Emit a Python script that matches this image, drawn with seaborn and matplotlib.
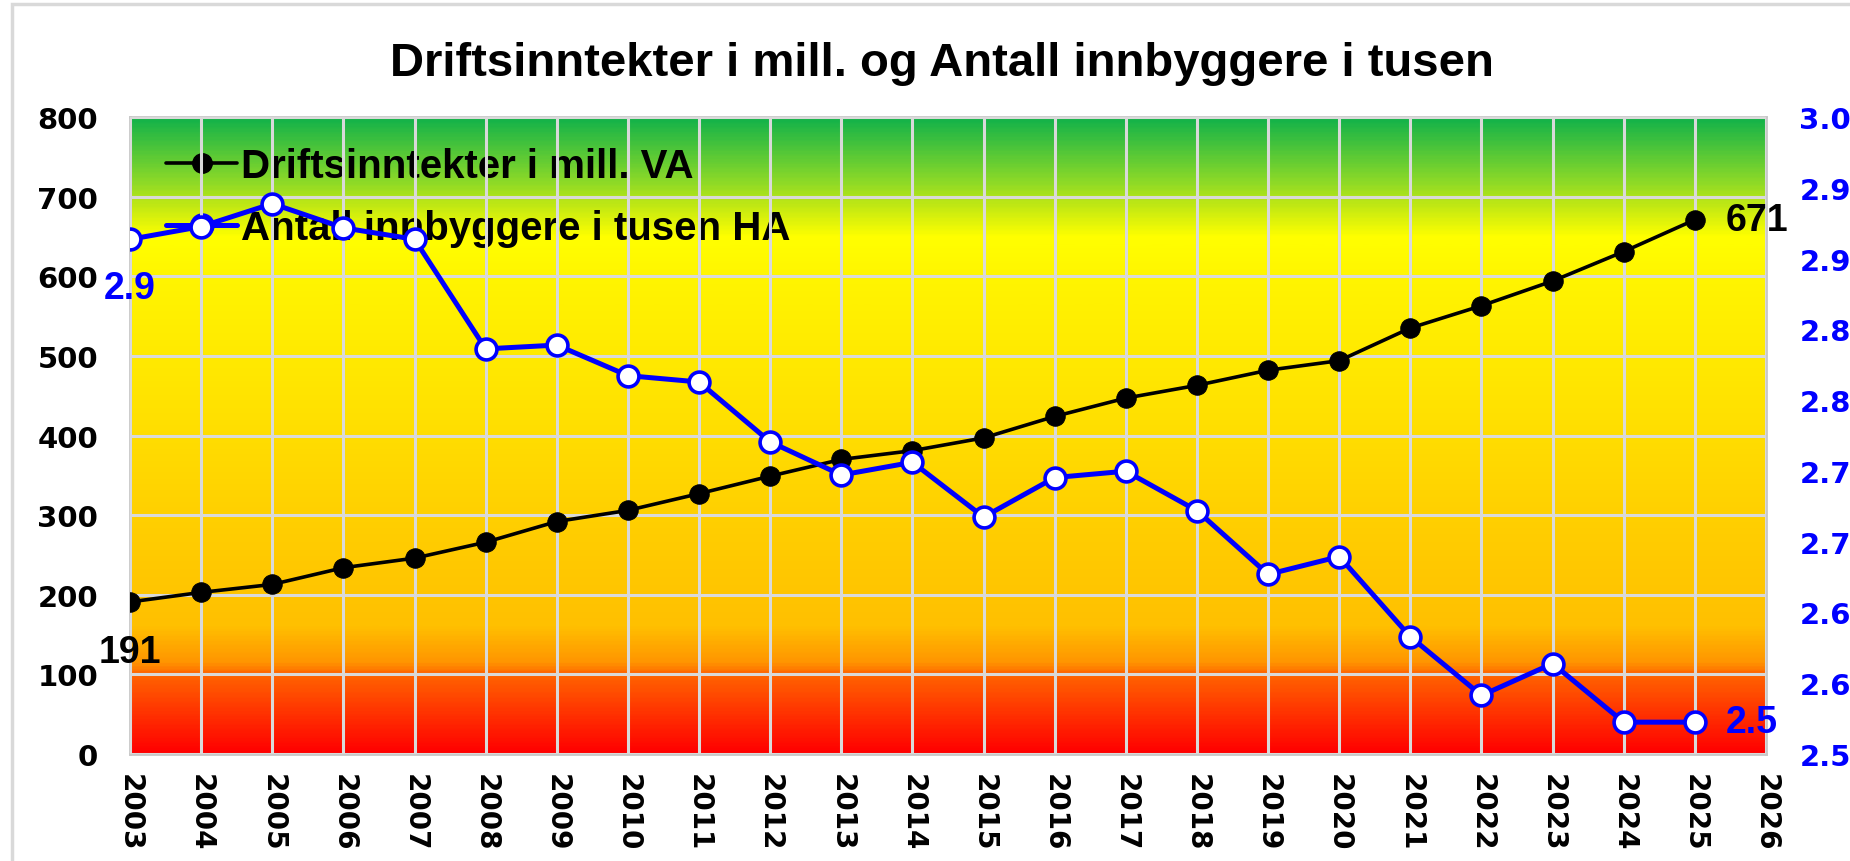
import numpy as np
import pandas as pd
import matplotlib
matplotlib.use("Agg")
import matplotlib.pyplot as plt
import seaborn as sns
from matplotlib.colors import LinearSegmentedColormap
from matplotlib.lines import Line2D
from matplotlib.patches import Rectangle

# data
years = list(range(2003, 2026))
driftsinntekter = [191, 203, 213, 234, 246, 266, 292, 306, 327, 349, 370, 381,
                   397, 424, 447, 463, 482, 494, 535, 563, 594, 631, 671]
innbyggere = [2.904, 2.914, 2.932, 2.913, 2.904, 2.818, 2.821, 2.797, 2.792,
              2.745, 2.719, 2.729, 2.686, 2.717, 2.722, 2.691, 2.641, 2.655,
              2.592, 2.546, 2.571, 2.525, 2.525]
x_ticks = list(range(2003, 2027))
left_ticks = [0, 100, 200, 300, 400, 500, 600, 700, 800]
right_ticks = list(np.linspace(2.5, 3.0, 10))

title = "Driftsinntekter i mill. og Antall innbyggere i tusen"
label_va = "Driftsinntekter i mill. VA"
label_ha = "Antall innbyggere i tusen HA"

sns.set_style("white")
plt.rcParams["font.family"] = ["DejaVu Sans"]
plt.rcParams["text.color"] = "black"
plt.rcParams["xtick.color"] = "black"
plt.rcParams["ytick.color"] = "black"
arial = ["Liberation Sans", "DejaVu Sans"]

df = pd.DataFrame({"year": years, "drift": driftsinntekter, "innb": innbyggere})

fig = plt.figure(figsize=(18.5, 8.62), dpi=100)
ax = fig.add_axes([0.0703, 0.1241, 0.8843, 0.7390])

# background gradient
stops = [(0, "#FF0000"), (100, "#FF6600"), (112, "#FF9400"), (160, "#FFC000"),
         (300, "#FFD000"), (450, "#FFE400"), (600, "#FFF500"), (650, "#FFFF00"),
         (690, "#C0E814"), (720, "#8CD928"), (800, "#12B24A")]
cmap = LinearSegmentedColormap.from_list("bg", [(v / 800, c) for v, c in stops])
grad = np.linspace(0, 1, 400).reshape(-1, 1)
ax.imshow(grad, extent=[2003, 2026, 0, 800], origin="lower", aspect="auto",
          cmap=cmap, zorder=0)

ax.set_xlim(2003, 2026)
ax.set_ylim(0, 800)
ax.set_xticks(x_ticks)
ax.set_yticks(left_ticks)
ax.grid(True, color="#D9D9D9", linewidth=2.2, zorder=1)
ax.set_axisbelow(False)
for s in ax.spines.values():
    s.set_color("#C8C8C8")
    s.set_linewidth(2)

black_style = dict(color="black", linewidth=2.6, marker="o", markersize=14,
                   markeredgecolor="black")
blue_style = dict(color="#0000FF", linewidth=3.6, marker="o", markersize=15,
                  markerfacecolor="white", markeredgecolor="#0000FF",
                  markeredgewidth=2.6)

sns.lineplot(data=df, x="year", y="drift", ax=ax, label=label_va,
             legend=False, zorder=3, **black_style)

ax2 = ax.twinx()
ax2.set_ylim(2.5, 3.0)
sns.lineplot(data=df, x="year", y="innb", ax=ax2, label=label_ha,
             legend=False, zorder=3, **blue_style)
ax2.set_yticks(right_ticks)
ax2.set_yticklabels([f"{v:.1f}" for v in right_ticks])
for s in ax2.spines.values():
    s.set_visible(False)

ax.set_xlabel("")
ax.set_ylabel("")
ax2.set_ylabel("")
ax.set_xticklabels([str(y) for y in x_ticks], rotation=-90, fontsize=20,
                   fontweight="bold")
ax.tick_params(axis="x", length=0, pad=14)
ax.tick_params(axis="y", length=0, pad=23, labelsize=21)
for t in ax.get_yticklabels():
    t.set_fontweight("bold")
ax2.tick_params(axis="y", length=0, pad=24, labelsize=21, labelcolor="#0000FF")
for t in ax2.get_yticklabels():
    t.set_fontweight("bold")

# data labels
lab = dict(textcoords="offset points", fontsize=27, fontweight="bold",
           family=arial, zorder=6)
ax.annotate(str(driftsinntekter[0]), (years[0], driftsinntekter[0]),
            xytext=(0, -36), ha="center", va="center", color="black", **lab)
ax.annotate(str(driftsinntekter[-1]), (years[-1], driftsinntekter[-1]),
            xytext=(22, 0), ha="left", va="center", color="black", **lab)
ax2.annotate(f"{innbyggere[0]:.1f}", (years[0], innbyggere[0]),
             xytext=(0, -35), ha="center", va="center", color="#0000FF", **lab)
ax2.annotate(f"{innbyggere[-1]:.1f}", (years[-1], innbyggere[-1]),
             xytext=(22, 0), ha="left", va="center", color="#0000FF", **lab)

# legend sits under the data lines
handles = [Line2D([], [], **black_style), Line2D([], [], **blue_style)]
leg = ax.legend(handles, [label_va, label_ha], loc="upper left",
                bbox_to_anchor=(0.0, 1.01), frameon=False, handlelength=1.75,
                handletextpad=0.1, labelspacing=0.6,
                prop={"family": arial, "weight": "bold", "size": 29})
leg.set_zorder(2)

fig.text(0.509, 0.926, title, ha="center", va="center", fontsize=34,
         fontweight="bold", family=arial)

# outer chart border (top and left edges visible)
fig.patches.append(Rectangle((12 / 1850, -0.1), 1.2, 1.1 - 5 / 862,
                             transform=fig.transFigure, fill=False,
                             edgecolor="#D9D9D9", linewidth=2.5))

fig.savefig("out.png", dpi=100)
